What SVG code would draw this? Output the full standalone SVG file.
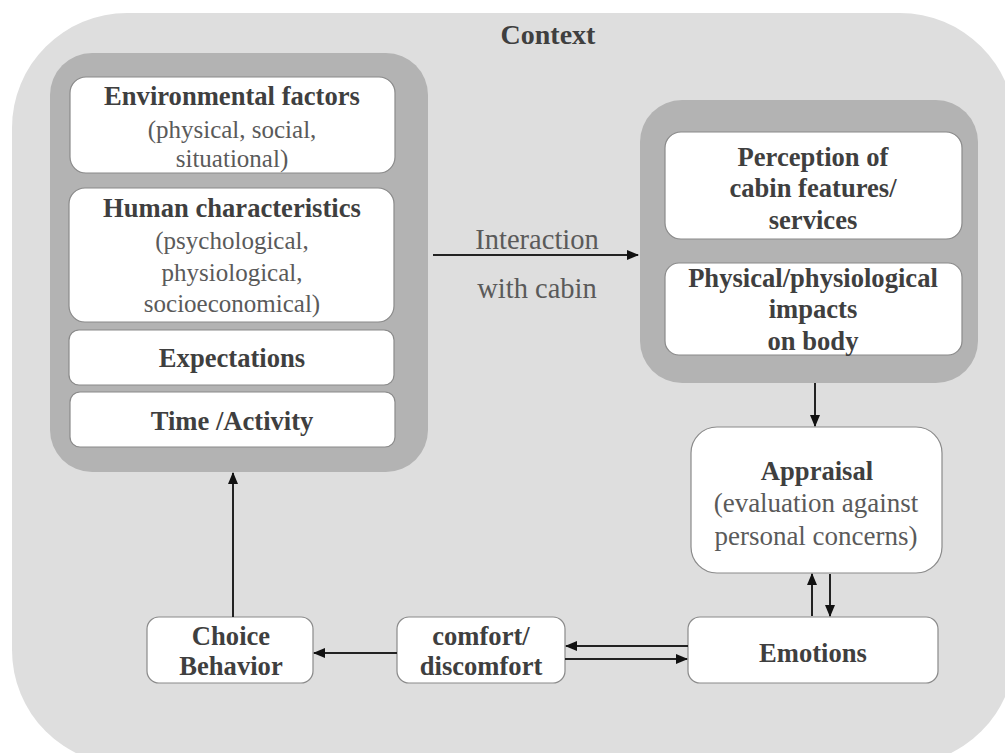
<svg xmlns="http://www.w3.org/2000/svg" width="1005" height="753" viewBox="0 0 1005 753">
<style>
.b{font-family:"Liberation Serif","Times New Roman",serif;font-weight:bold;font-size:26.6px;fill:#3f3f3f;text-anchor:middle}
.r{font-family:"Liberation Serif","Times New Roman",serif;font-size:25px;fill:#5a5a5a;text-anchor:middle}
.box{fill:#fff;stroke:#8a8a8a;stroke-width:1.2}
.grp{fill:#b3b3b3}
.ln{stroke:#222;stroke-width:2;fill:none}
</style>
<defs>
<marker id="ah" markerUnits="userSpaceOnUse" markerWidth="12" markerHeight="10" refX="11" refY="5" orient="auto">
<path d="M0,0 L12,5 L0,10 Z" fill="#111"/>
</marker>
</defs>
<rect x="12" y="13" width="1003" height="752" rx="115" fill="#dedede"/>
<text class="b" x="548" y="44" style="font-size:28px">Context</text>

<g id="left-group">
<rect class="grp" x="50" y="53" width="378" height="419" rx="42"/>
<g id="env">
<rect class="box" x="70" y="77" width="325" height="96" rx="16"/>
<text class="b" x="232" y="105">Environmental factors</text>
<text class="r" x="232" y="138">(physical, social,</text>
<text class="r" x="232" y="167">situational)</text>
</g>
<g id="human">
<rect class="box" x="69" y="188" width="325" height="134" rx="16"/>
<text class="b" x="232" y="217">Human characteristics</text>
<text class="r" x="232" y="249">(psychological,</text>
<text class="r" x="232" y="281">physiological,</text>
<text class="r" x="232" y="312">socioeconomical)</text>
</g>
<g id="expect">
<rect class="box" x="69" y="330" width="325" height="55" rx="10"/>
<text class="b" x="232" y="367">Expectations</text>
</g>
<g id="time">
<rect class="box" x="70" y="392" width="325" height="55" rx="10"/>
<text class="b" x="232" y="430">Time /Activity</text>
</g>
</g>

<g id="right-group">
<rect class="grp" x="640" y="100" width="338" height="283" rx="42"/>
<g id="perception">
<rect class="box" x="665" y="132" width="297" height="107" rx="16"/>
<text class="b" x="813" y="166">Perception of</text>
<text class="b" x="813" y="197">cabin features/</text>
<text class="b" x="813" y="229">services</text>
</g>
<g id="physical">
<rect class="box" x="665" y="263" width="297" height="92" rx="14"/>
<text class="b" x="813" y="287">Physical/physiological</text>
<text class="b" x="813" y="318">impacts</text>
<text class="b" x="813" y="350">on body</text>
</g>
</g>

<g id="appraisal">
<rect class="box" x="691" y="427" width="251" height="146" rx="26"/>
<text class="b" x="817" y="480">Appraisal</text>
<text class="r" x="816" y="512" style="font-size:27px">(evaluation against</text>
<text class="r" x="816" y="545" style="font-size:27px">personal concerns)</text>
</g>

<g id="emotions">
<rect class="box" x="688" y="617" width="250" height="66" rx="12"/>
<text class="b" x="813" y="662">Emotions</text>
</g>

<g id="comfort">
<rect class="box" x="397" y="617" width="168" height="66" rx="12"/>
<text class="b" x="481" y="645">comfort/</text>
<text class="b" x="481" y="675">discomfort</text>
</g>

<g id="choice">
<rect class="box" x="147" y="617" width="166" height="66" rx="12"/>
<text class="b" x="231" y="645">Choice</text>
<text class="b" x="231" y="675">Behavior</text>
</g>

<g id="connectors">
<line class="ln" x1="433" y1="255" x2="638" y2="255" marker-end="url(#ah)"/>
<text class="r" x="537" y="249" style="font-size:28.5px">Interaction</text>
<text class="r" x="537" y="298" style="font-size:28.5px">with cabin</text>
<line class="ln" x1="815" y1="383" x2="815" y2="426" marker-end="url(#ah)"/>
<line class="ln" x1="812" y1="616" x2="812" y2="574" marker-end="url(#ah)"/>
<line class="ln" x1="830" y1="574" x2="830" y2="616" marker-end="url(#ah)"/>
<line class="ln" x1="688" y1="646" x2="566" y2="646" marker-end="url(#ah)"/>
<line class="ln" x1="565" y1="659" x2="687" y2="659" marker-end="url(#ah)"/>
<line class="ln" x1="397" y1="653" x2="314" y2="653" marker-end="url(#ah)"/>
<line class="ln" x1="233" y1="617" x2="233" y2="473" marker-end="url(#ah)"/>
</g>
</svg>
